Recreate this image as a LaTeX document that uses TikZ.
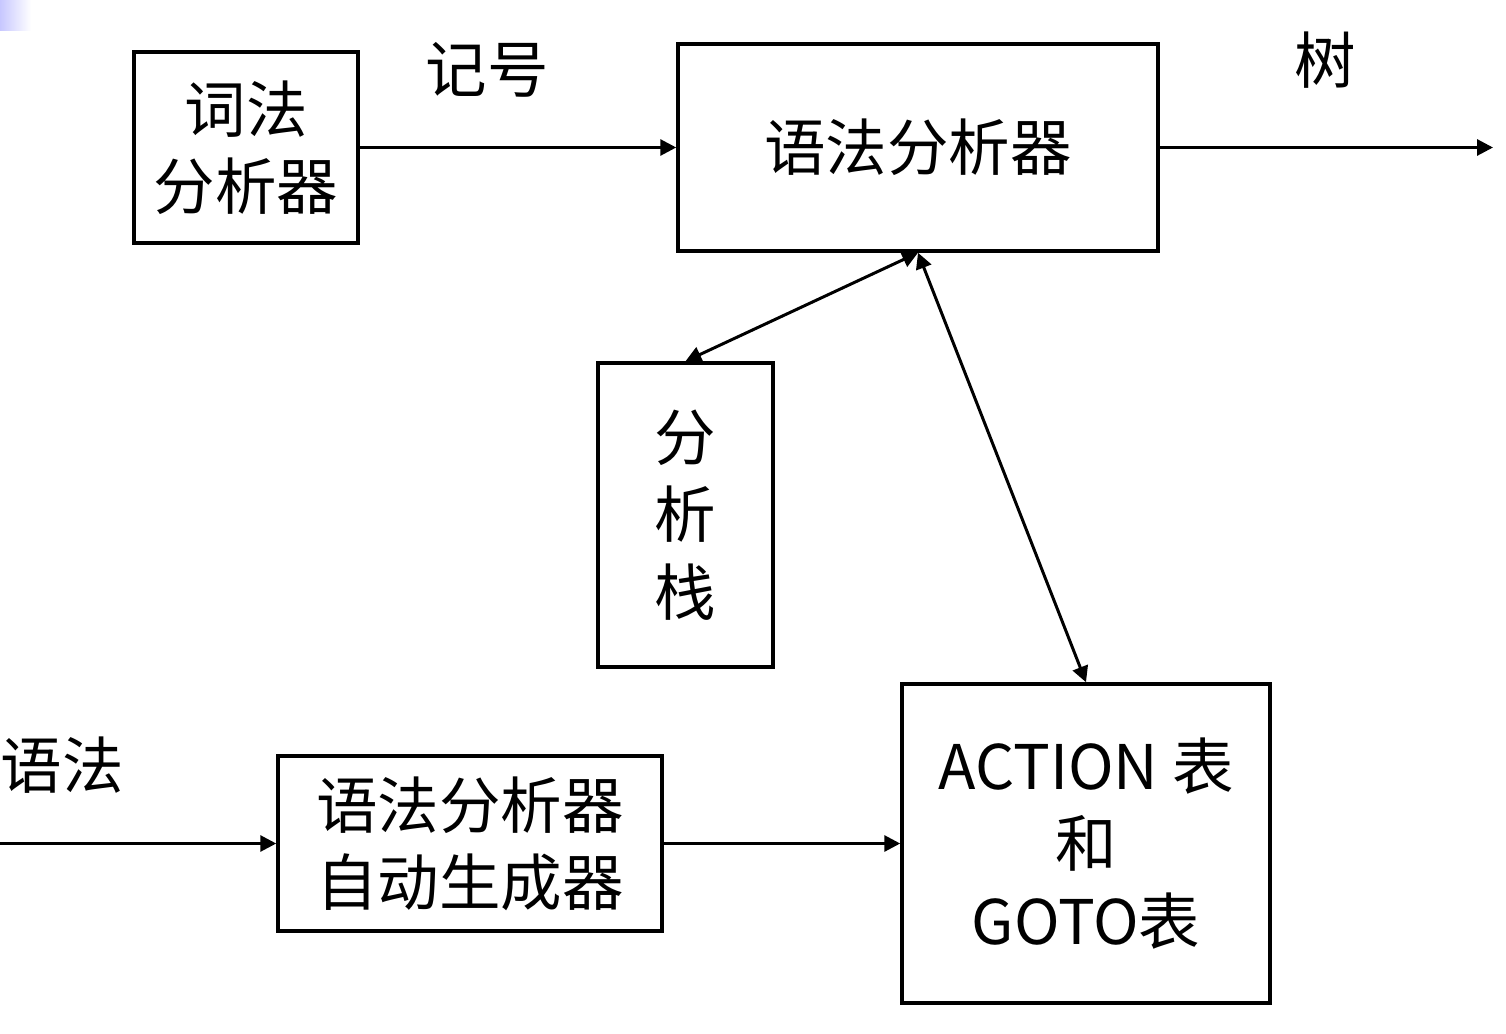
\documentclass[tikz,border=0pt]{standalone}
\usepackage{fontspec}
\setmainfont{Noto Sans CJK SC}
\usepackage{tikz}
\usetikzlibrary{arrows.meta}

\begin{document}
\begin{tikzpicture}
					\tikzstyle{box}=[rectangle,draw=black,line width=2pt,inner sep=0pt,align=center,font=\fontsize{35}{44}\selectfont]
					\tikzstyle{word}=[inner sep=0pt,font=\fontsize{35}{44}\selectfont]
					\tikzstyle{link}=[line width=1.7pt,-{Triangle[length=9pt,width=9pt]}]
					\tikzstyle{both}=[line width=1.7pt,{Triangle[length=9pt,width=9pt]}-{Triangle[length=9pt,width=9pt]}]
					\useasboundingbox (0,0) rectangle (30.12,-20.68);
					\shade[left color=blue!22,right color=white] (0,0) rectangle (0.62,-0.62);
					\node[box,minimum width=4.48cm,minimum height=3.82cm] (lex) at (4.92,-2.95) {词法\\分析器};
					\node[box,minimum width=9.6cm,minimum height=4.14cm] (parser) at (18.36,-2.95) {语法分析器};
					\node[box,minimum width=3.5cm,minimum height=6.08cm] (stack) at (13.71,-10.3) {分\\析\\栈};
					\node[box,minimum width=7.68cm,minimum height=3.5cm] (gen) at (9.4,-16.87) {语法分析器\\自动生成器};
					\node[box,minimum width=7.36cm,minimum height=6.38cm] (table) at (21.72,-16.87) {ACTION 表\\和\\GOTO表};
					\coordinate (in) at (0,-16.87);
					\coordinate (out) at (29.86,-2.95);
					\node[word] (token) at (9.74,-1.4) {记号};
					\node[word] (tree) at (26.5,-1.2) {树};
					\node[word] (grammar) at (1.24,-15.3) {语法};
					\draw[link] (lex) -- (parser);
					\draw[link] (parser) -- (out);
					\draw[both] (parser.south) -- (stack.north);
					\draw[both] (parser.south) -- (table.north);
					\draw[link] (in) -- (gen);
					\draw[link] (gen) -- (table);
\end{tikzpicture}
\end{document}
